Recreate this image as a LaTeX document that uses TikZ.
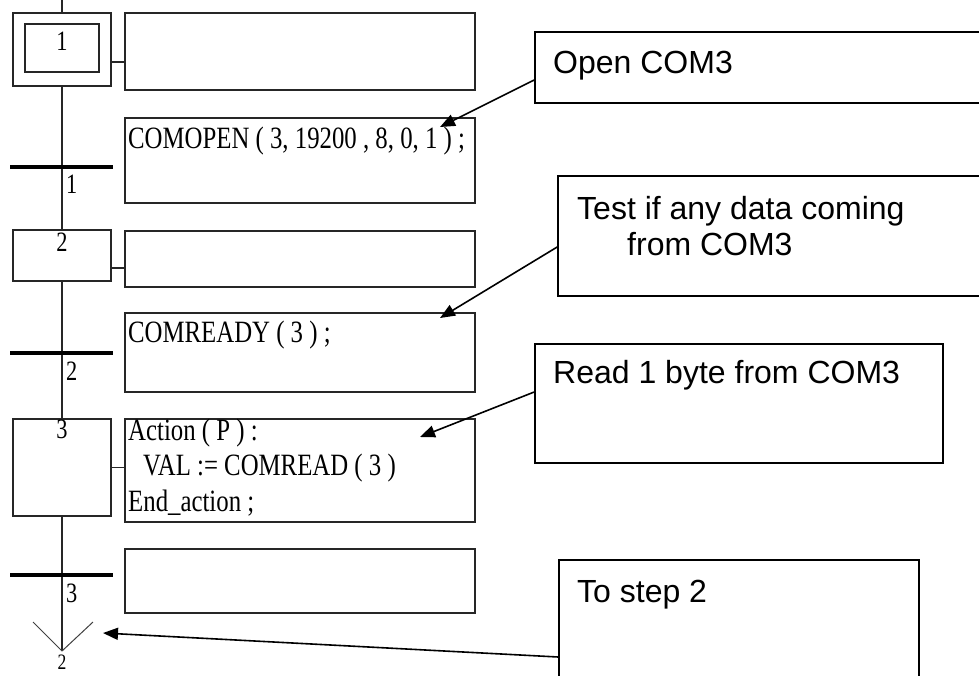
\documentclass[tikz,border=0pt]{standalone}
\usepackage{fontspec}
\usepackage{tikz}
\usetikzlibrary{positioning,arrows.meta,calc}
\newfontfamily\plcfont{Liberation Serif}[FakeStretch=0.8]
\newfontfamily\notefont{Liberation Sans}
\tikzset{
stepbox/.style={draw=black!85,line width=1.4pt,minimum width=98pt,inner sep=0pt},
actbox/.style={draw=black!85,line width=1.4pt,minimum width=350pt,inner sep=0pt},
transbar/.style={fill=black,minimum width=103pt,minimum height=4pt,inner sep=0pt},
plc/.style={font=\plcfont\fontsize{31}{35.5}\selectfont,inner sep=0pt,align=left},
num/.style={font=\plcfont\fontsize{28}{30}\selectfont,inner sep=0pt},
callout/.style={draw,line width=1.6pt,inner sep=0pt},
note/.style={font=\notefont\fontsize{32}{36.5}\selectfont,inner sep=0pt,align=left},
callarrow/.style={line width=1.6pt,-{Triangle[length=15pt,width=12pt]}},
flow/.style={draw=black!85,line width=1.4pt},
}

\begin{document}
\begin{tikzpicture}[x=1pt,y=-1pt]
\useasboundingbox (0,0) rectangle (979,675);

\node[stepbox,minimum height=73pt] (s1) at (62,49.5) {};
\node[stepbox,minimum width=74pt,minimum height=48pt] (s1in) at (62,48) {};
\node[num,anchor=base] (s1n) at (62,50) {1};
\node[stepbox,minimum height=51pt] (s2) at (62,255.5) {};
\node[num,anchor=base] (s2n) at (62,251) {2};
\node[stepbox,minimum height=97pt] (s3) at (62,467.5) {};
\node[num,anchor=base] (s3n) at (62,438) {3};

\node[actbox,minimum height=77pt] (a1) at (300,51.5) {};
\node[actbox,minimum height=85pt] (c1) at (300,160.5) {};
\node[actbox,minimum height=56pt] (a2) at (300,259) {};
\node[actbox,minimum height=79pt] (c2) at (300,352.5) {};
\node[actbox,minimum height=103pt] (a3) at (300,470.5) {};
\node[actbox,minimum height=64pt] (c3) at (300,581) {};

\node[plc,anchor=base west] (c1txt) at (128,148) {COMOPEN ( 3, 19200 , 8, 0, 1 ) ;};
\node[plc,anchor=base west] (c2txt) at (128,342) {COMREADY ( 3 ) ;};
\node[plc,anchor=north west] (a3txt) at (128,418.5) {Action ( P ) :\\\hspace*{15pt}VAL := COMREAD ( 3 )\\End\_action ;};

\coordinate (entry) at (62,-1);
\coordinate (jump) at (62,651);
\draw[flow] (entry) -- (s1.north);
\draw[flow] (s1.south) -- (s2.north);
\draw[flow] (s2.south) -- (s3.north);
\draw[flow] (s3.south) -- (jump);
\draw[black!75,line width=1pt] ($(jump)+(-29,-29)$) -- (jump) -- ($(jump)+(31,-29)$);
\node[num,font=\plcfont\fontsize{22}{26}\selectfont,anchor=base] (jumpn) at (62,669.5) {2};

\draw[flow] ([yshift=-12.5pt]s1.east) -- ([yshift=-12.5pt]s1.east -| a1.west);
\draw[flow] ([yshift=-12.5pt]s2.east) -- ([yshift=-12.5pt]s2.east -| a2.west);
\draw[flow] (s3.east) -- (s3.east -| a3.west);

\node[transbar] (t1) at (61.5,167) {};
\node[transbar] (t2) at (61.5,353) {};
\node[transbar] (t3) at (61.5,575) {};
\node[num,anchor=base west] (t1n) at (66,193) {1};
\node[num,anchor=base west] (t2n) at (66,380) {2};
\node[num,anchor=base west] (t3n) at (66,602) {3};

\node[callout,minimum width=455pt,minimum height=71pt] (opn) at (762.5,67.5) {};
\node[note,anchor=base west] (opntxt) at (553,73) {Open COM3};
\node[callout,minimum width=432pt,minimum height=120pt] (tst) at (774,236) {};
\node[note,anchor=north west] (tsttxt) at (577,196) {Test if any data coming\\\hspace*{50pt}from COM3};
\node[callout,minimum width=408pt,minimum height=119pt] (rd) at (739,403.5) {};
\node[note,anchor=base west] (rdtxt) at (553,383) {Read 1 byte from COM3};
\node[callout,minimum width=360pt,minimum height=140pt] (tostep) at (739,630) {};
\node[note,anchor=base west] (tosteptxt) at (577,602) {To step 2};

\coordinate (opntip) at (440,127);
\coordinate (tsttip) at (440,318);
\coordinate (rdtip) at (420,437);
\coordinate (tosteptip) at (103,633);
\draw[callarrow] ([yshift=-12.5pt]opn.west) -- (opntip);
\draw[callarrow] ([yshift=-11pt]tst.west) -- (tsttip);
\draw[callarrow] ([yshift=11.5pt]rd.west) -- (rdtip);
\draw[callarrow] ([yshift=-27pt]tostep.west) -- (tosteptip);
\end{tikzpicture}
\end{document}
